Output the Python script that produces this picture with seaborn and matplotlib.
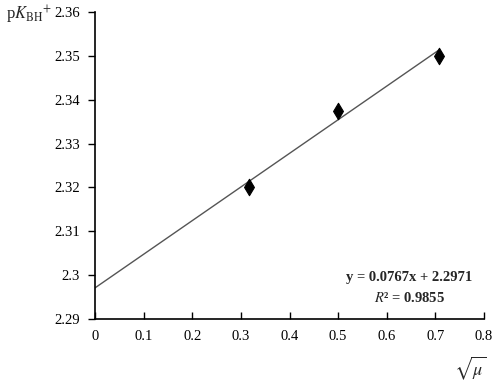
import numpy as np
import pandas as pd
import matplotlib
matplotlib.use("Agg")
import matplotlib.pyplot as plt
import seaborn as sns

# data
sqrt_mu = [0.316, 0.500, 0.707]
pk_bh = [2.3200, 2.3375, 2.3500]
slope = 0.0767
intercept = 2.2971
r2 = 0.9855
x_ticks = [0, 0.1, 0.2, 0.3, 0.4, 0.5, 0.6, 0.7, 0.8]
y_ticks = [2.29, 2.30, 2.31, 2.32, 2.33, 2.34, 2.35, 2.36]
y_tick_labels = ["2.29", "2.3", "2.31", "2.32", "2.33", "2.34", "2.35", "2.36"]

sns.set_style("ticks")
plt.rcParams["font.family"] = ["Liberation Serif", "DejaVu Serif"]
plt.rcParams["mathtext.fontset"] = "stix"

df = pd.DataFrame({"x": sqrt_mu, "y": pk_bh})
fit_x = np.array([0, max(sqrt_mu)])
fit = pd.DataFrame({"x": fit_x, "y": slope * fit_x + intercept})

fig = plt.figure(figsize=(5, 3.9), dpi=100)
ax = fig.add_axes([0.19, 0.182, 0.778, 0.787])

sns.lineplot(data=fit, x="x", y="y", color="#555555", linewidth=1.0, ax=ax)
sns.scatterplot(data=df, x="x", y="y", marker="d", color="black", s=70,
                edgecolor="black", linewidth=0.8, zorder=3, ax=ax)

ax.set_xlim(0, 0.8)
ax.set_ylim(2.29, 2.36)
ax.set_xticks(x_ticks)
ax.set_xticklabels([f"{t:g}" for t in x_ticks])
ax.set_yticks(y_ticks)
ax.set_yticklabels(y_tick_labels)
ax.tick_params(axis="x", direction="in", length=5, width=1, labelsize=10.5, pad=8, colors="black")
ax.tick_params(axis="y", direction="out", length=5, width=1, labelsize=10.5, pad=6, colors="black")
for s in ["top", "right"]:
    ax.spines[s].set_visible(False)
for s in ["left", "bottom"]:
    ax.spines[s].set_linewidth(1.2)
    ax.spines[s].set_color("black")
ax.set_xlabel("")
ax.set_ylabel("")

fig.text(0.012, 0.962, r"p$K_{\mathrm{BH}}$$^{+}$", fontsize=12, ha="left", va="center")
fig.text(0.94, 0.056, r"$\sqrt{\mu}$", fontsize=13, ha="center", va="center")

ax.text(0.97, 0.134, f"y = {slope}x + {intercept}", transform=ax.transAxes,
        fontsize=10.5, fontweight="bold", ha="right", va="center")
ax.text(0.9, 0.068, r"$\mathbf{\mathit{R}}$" + f"² = {r2}", transform=ax.transAxes,
        fontsize=10.5, fontweight="bold", ha="right", va="center")

fig.savefig("out.png", dpi=100, facecolor="white")
